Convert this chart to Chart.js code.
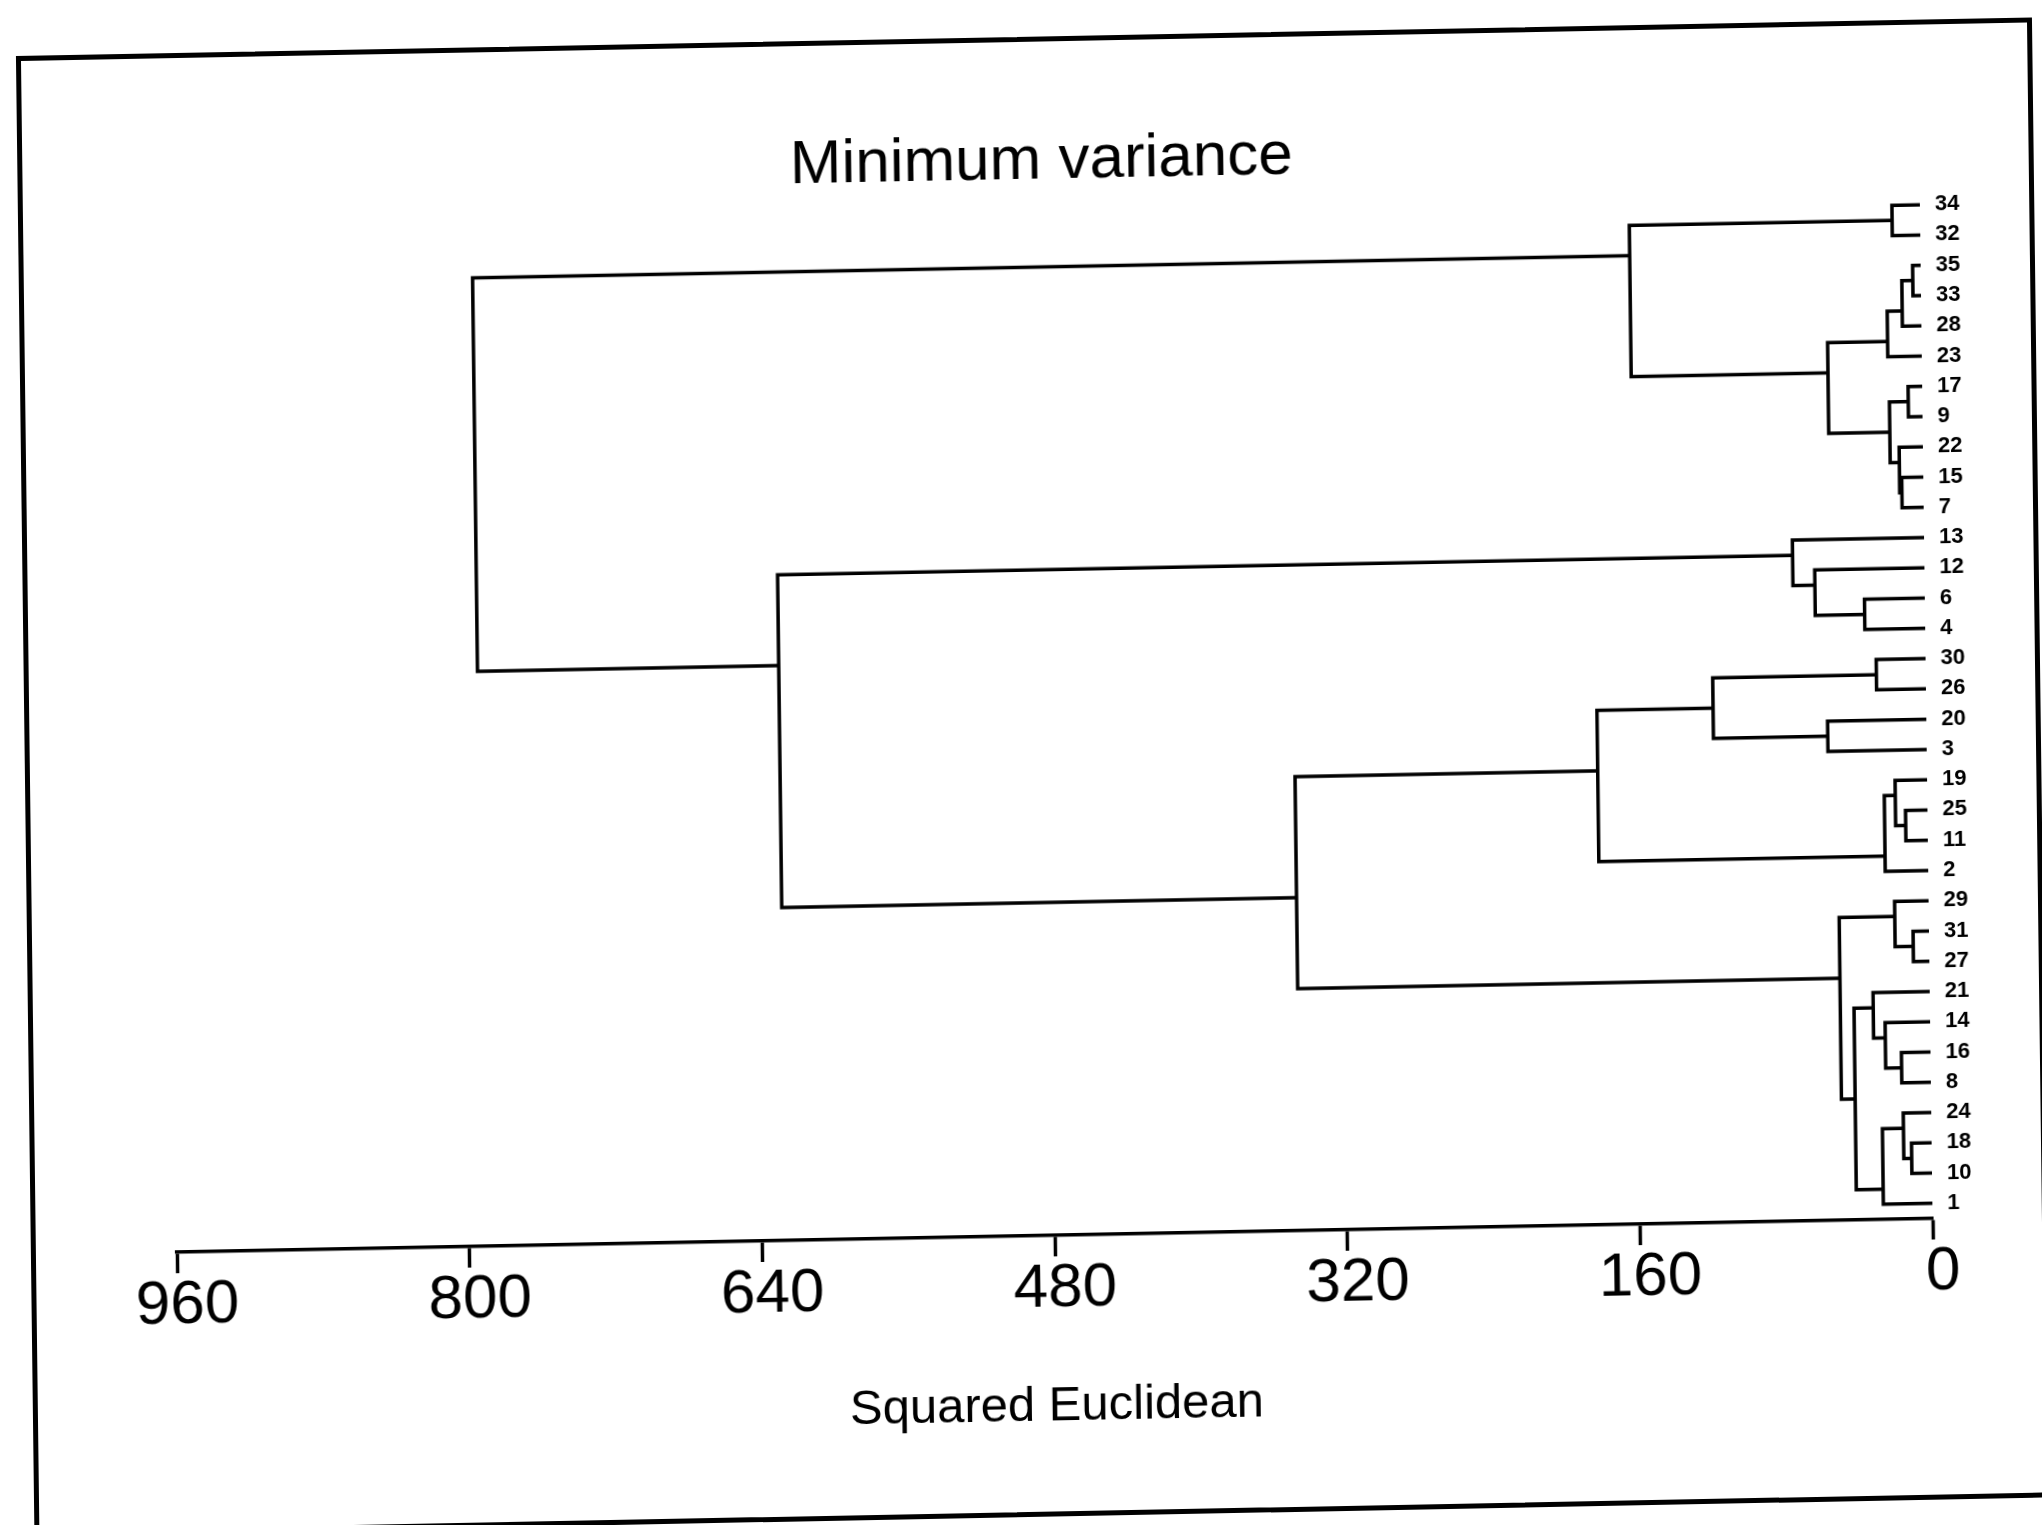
<!DOCTYPE html>
<html>
<head>
<meta charset="utf-8">
<title>Minimum variance</title>
<script src="https://cdn.jsdelivr.net/npm/chart.js@4/dist/chart.umd.min.js"></script>
<style>
  html, body { margin: 0; padding: 0; background: #fff; overflow: hidden; }
  #sheet {
    position: relative; width: 2042px; height: 1525px;
    /* the scan is a little tilted */
    transform-origin: 1021px 762px;
    transform: matrix(1, -0.0192, 0.0125, 1, 0, 0);
  }
  #dendro { position: absolute; left: 0; top: 0; }
  #frame {
    position: absolute; left: 25px; top: 37px; width: 2016px; height: 1480px;
    box-sizing: border-box; border: 5px solid #000;
  }
</style>
</head>
<body>
<div id="sheet">
  <div id="frame"></div>
  <canvas id="dendro" width="2042" height="1525"></canvas>
</div>
<script>
// leaves, top to bottom
const leafLabels = ['34','32','35','33','28','23','17','9','22','15','7','13','12','6','4',
  '30','26','20','3','19','25','11','2','29','31','27','21','14','16','8','24','18','10','1'];

// merge i joins mergeUpper[i] and mergeLower[i] at mergeHeight[i]  ('mK' = merge K)
const mergeUpper = ['35','m0','m1','17','15','22','m3','m2','34','m8','6','12','13','30','20','m13',
  '25','19','m17','m15','31','29','16','14','21','18','24','m26','m24','m21','m19','m12','m9'];
const mergeLower = ['33','28','23','9','7','m4','m5','m6','32','m7','4','m10','m11','26','3','m14',
  '11','m16','2','m18','27','m20','8','m22','m23','10','m25','1','m27','m28','m29','m30','m31'];
const mergeHeight = [4.4,10.4,18.6,7.7,11.8,13,18,51.4,15.3,159,33,60,72,27,54,116.5,
  12,17.5,23.5,180,8.7,18.6,15.9,24.6,31,11,15.3,26.8,41.5,49,345.5,627,791.7];

const tickValues = [960,800,640,480,320,160,0];

Chart.defaults.font.family = "'Liberation Sans', Arial, Helvetica, sans-serif";
Chart.defaults.color = '#000';

const merged = [];
const nodeOf = ref => {
    if (ref[0] === 'm') return merged[+ref.slice(1)];
    const i = leafLabels.indexOf(ref);
    return {y: i, h: 0, first: i, last: i};
};

// one bracket per merge; the joint sits on the gap between the two groups of leaves
const datasets = [];
mergeHeight.forEach((h, i) => {
    const a = nodeOf(mergeUpper[i]);
    const b = nodeOf(mergeLower[i]);
    merged.push({y: (a.last + b.first) / 2, h: h, first: a.first, last: b.last});
    datasets.push({
        data: [{x: a.h, y: a.y}, {x: h, y: a.y}, {x: h, y: b.y}, {x: b.h, y: b.y}],
        showLine: true,
        borderColor: '#000',
        borderWidth: 3.5,
        borderJoinStyle: 'miter',
        pointRadius: 0,
        fill: false,
        tension: 0
    });
});

new Chart(document.getElementById('dendro').getContext('2d'), {
    type: 'scatter',
    data: {datasets: datasets},
    options: {
        responsive: false,
        animation: false,
        events: [],
        layout: {padding: {left: 171, top: 0, right: 55, bottom: 88}},
        plugins: {
            legend: {display: false},
            tooltip: {enabled: false},
            title: {
                display: true,
                text: 'Minimum variance',
                fullSize: false,
                color: '#000',
                font: {size: 62, weight: 'normal'},
                padding: {top: 124.8, bottom: 7.8}
            }
        },
        scales: {
            x: {
                type: 'linear',
                position: 'bottom',
                min: 0,
                max: 960,
                reverse: true,
                afterBuildTicks: s => { s.ticks = tickValues.map(v => ({value: v})); },
                afterFit: s => { s.height = 201; },
                grid: {drawOnChartArea: false, drawTicks: true, tickLength: 21, tickWidth: 3.5, tickColor: '#000'},
                border: {display: true, color: '#000', width: 3.5},
                ticks: {color: '#000', padding: -4, labelOffset: 10, maxRotation: 0, autoSkip: false, font: {size: 62}},
                title: {display: true, text: 'Squared Euclidean', color: '#000', font: {size: 49}, padding: 0}
            },
            y: {
                type: 'linear',
                position: 'right',
                min: -0.5,
                max: 33.5,
                reverse: true,
                afterBuildTicks: s => { s.ticks = leafLabels.map((_, i) => ({value: i})); },
                afterFit: s => { s.width = 60; },
                grid: {display: false, drawTicks: false},
                border: {display: false},
                ticks: {
                    color: '#000', padding: 15, autoSkip: false,
                    font: {size: 22, weight: 'bold'},
                    callback: v => leafLabels[v]
                }
            }
        }
    }
});
</script>
</body>
</html>
